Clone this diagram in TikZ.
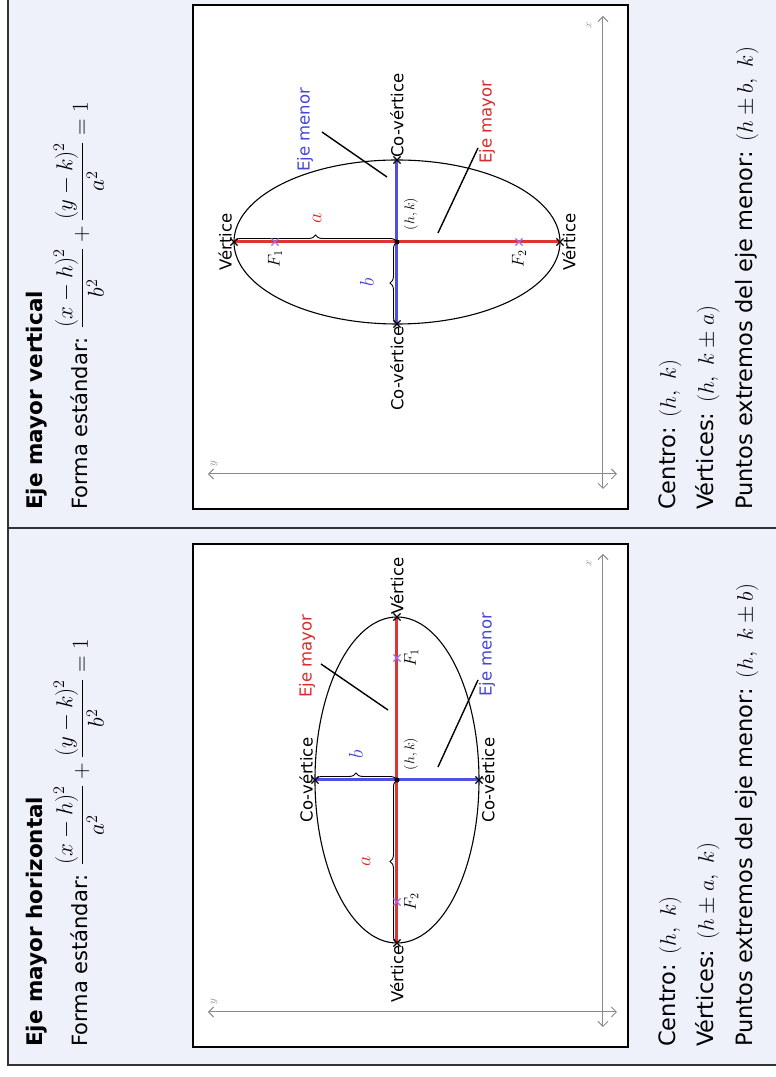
\RequirePackage{fix-cm}
\documentclass[tikz,border=0pt]{standalone}
\usepackage{fontspec}
\setmainfont{DejaVu Sans}
\usetikzlibrary{decorations.pathreplacing,arrows.meta,shapes.misc}
\definecolor{bgcol}{HTML}{EEF0FA}
\definecolor{redax}{HTML}{E03434}
\definecolor{blueax}{HTML}{5050E0}
\definecolor{redtxt}{HTML}{D92B2B}
\definecolor{bluetxt}{HTML}{4646D8}
\definecolor{focol}{HTML}{9B6CF0}
\definecolor{axgray}{HTML}{8A8A8A}
\definecolor{bordcol}{HTML}{333333}
\tikzset{
  lbl/.style={font=\fontsize{16.5}{18}\selectfont, inner sep=2pt},
  redlbl/.style={lbl, text=redtxt},
  bluelbl/.style={lbl, text=bluetxt},
  vmark/.style={cross out, draw=black, line width=1.2pt, minimum size=6pt, inner sep=0pt},
  fmark/.style={cross out, draw=focol, line width=1.2pt, minimum size=6pt, inner sep=0pt},
  cdot/.style={circle, fill=black, minimum size=5pt, inner sep=0pt},
  majax/.style={draw=redax, line width=3pt},
  minax/.style={draw=blueax, line width=3pt},
  ell/.style={draw=black, line width=1.1pt},
  leader/.style={draw=black, line width=1.4pt},
  bracedeco/.style={draw=black, decorate, decoration={brace, amplitude=7pt}, line width=0.9pt},
  axisline/.style={draw=axgray, line width=1pt, {Straight Barb[length=5pt,width=10pt]}-{Straight Barb[length=5pt,width=10pt]}},
  axlbl/.style={font=\fontsize{11}{12}\selectfont, text=axgray, inner sep=0pt},
  boxframe/.style={draw=black, line width=1.4pt, fill=white},
  headtext/.style={font=\fontsize{21}{24}\selectfont, anchor=base west, inner sep=0pt},
  bodytext/.style={font=\fontsize{22.5}{26}\selectfont, anchor=base west, inner sep=0pt},
  titletext/.style={font=\fontsize{21.5}{24}\selectfont\bfseries, anchor=base west, inner sep=0pt},
  mathlbl/.style={font=\fontsize{20}{22}\selectfont, inner sep=0pt},
  flbl/.style={font=\fontsize{17}{19}\selectfont, inner sep=0pt},
  hklbl/.style={font=\fontsize{14}{15}\selectfont, inner sep=0pt},
}
\begin{document}
\begin{tikzpicture}[x=1pt,y=1pt]
\useasboundingbox (-776,0) rectangle (0,1077);
\begin{scope}[rotate=90,transform shape]
% table background and rules
\fill[white] (0,0) rectangle (1077,776);
\fill[bgcol] (12,0) rectangle (1077,768);
\draw[bordcol,line width=1.4pt] (12,0) -- (12,768) -- (1077,768);
\draw[bordcol,line width=1.4pt] (549,0) -- (549,768);

% ---------- column 1 : horizontal major axis ----------
\node[titletext] (t1) at (30,733) {Eje mayor horizontal};
\node[headtext] (f1) at (30,688) {Forma estándar: \fontsize{23}{25}\selectfont$\displaystyle\frac{(x-h)^2}{a^2}+\frac{(y-k)^2}{b^2}=1$};
\node[bodytext] (c1) at (30,100) {Centro: $(h,\ k)$};
\node[bodytext] (v1) at (30,62) {Vértices: $(h\pm a,\ k)$};
\node[bodytext] (p1) at (30,23) {Puntos extremos del eje menor: $(h,\ k\pm b)$};

\begin{scope}[shift={(297,379)}]
\draw[boxframe] (-267,-231) rectangle (236,204);
\coordinate (hxa) at (-247,-206); \coordinate (hxb) at (226,-206);
\coordinate (hya) at (-232,-220); \coordinate (hyb) at (-232,189);
\draw[axisline] (hxa) -- (hxb);
\draw[axisline] (hya) -- (hyb);
\node[axlbl] (hxl) at (217,-192) {$x$};
\node[axlbl] (hyl) at (-222,183) {$y$};
\draw[ell] (0,0) ellipse [x radius=163, y radius=82];
\coordinate (hC) at (0,0);
\coordinate (hV1) at (163,0); \coordinate (hV2) at (-163,0);
\coordinate (hW1) at (0,82); \coordinate (hW2) at (0,-82);
\coordinate (hF1) at (122,0); \coordinate (hF2) at (-122,0);
\draw[majax] (hV2) -- (hV1);
\draw[minax] (hW2) -- (hW1);
\draw[bracedeco] (hV2) -- (hC);
\draw[bracedeco] (hW1) -- (hC);
\node[vmark] (hv1m) at (hV1) {}; \node[vmark] (hv2m) at (hV2) {};
\node[vmark] (hw1m) at (hW1) {}; \node[vmark] (hw2m) at (hW2) {};
\node[fmark] (hf1m) at (hF1) {}; \node[fmark] (hf2m) at (hF2) {};
\node[cdot] (hcm) at (hC) {};
\node[lbl,anchor=west] (hv1l) at (hV1) {Vértice};
\node[lbl,anchor=east] (hv2l) at (hV2) {Vértice};
\node[lbl,anchor=south] (hw1l) at (hW1) {Co-vértice};
\node[lbl,anchor=north] (hw2l) at (hW2) {Co-vértice};
\node[flbl,anchor=north] (hf1l) at ([yshift=-7pt]hF1) {$F_1$};
\node[flbl,anchor=north] (hf2l) at ([yshift=-7pt]hF2) {$F_2$};
\node[mathlbl,text=redtxt] (hal) at (-81,31) {$a$};
\node[mathlbl,text=bluetxt] (hbl) at (26,41) {$b$};
\node[hklbl] (hhk) at (26,-14) {$(h,k)$};
\node[redlbl] (hmay) at (124,90) {Eje mayor};
\node[bluelbl] (hmen) at (125,-90) {Eje menor};
\coordinate (hmayA) at (116,76); \coordinate (hmayB) at (70,9);
\coordinate (hmenA) at (100,-81); \coordinate (hmenB) at (13,-41);
\draw[leader] (hmayA) -- (hmayB);
\draw[leader] (hmenA) -- (hmenB);
\end{scope}

% ---------- column 2 : vertical major axis ----------
\node[titletext] (t2) at (567,733) {Eje mayor vertical};
\node[headtext] (f2) at (567,688) {Forma estándar: \fontsize{23}{25}\selectfont$\displaystyle\frac{(x-h)^2}{b^2}+\frac{(y-k)^2}{a^2}=1$};
\node[bodytext] (c2) at (567,100) {Centro: $(h,\ k)$};
\node[bodytext] (v2) at (567,62) {Vértices: $(h,\ k\pm a)$};
\node[bodytext] (p2) at (567,23) {Puntos extremos del eje menor: $(h\pm b,\ k)$};

\begin{scope}[shift={(835,379)}]
\draw[boxframe] (-267,-231) rectangle (237,204);
\coordinate (vxa) at (-247,-206); \coordinate (vxb) at (226,-206);
\coordinate (vya) at (-232,-220); \coordinate (vyb) at (-232,189);
\draw[axisline] (vxa) -- (vxb);
\draw[axisline] (vya) -- (vyb);
\node[axlbl] (vxl) at (217,-192) {$x$};
\node[axlbl] (vyl) at (-222,183) {$y$};
\draw[ell] (0,0) ellipse [x radius=82, y radius=163];
\coordinate (vC) at (0,0);
\coordinate (vV1) at (0,163); \coordinate (vV2) at (0,-163);
\coordinate (vW1) at (82,0); \coordinate (vW2) at (-82,0);
\coordinate (vF1) at (0,122); \coordinate (vF2) at (0,-122);
\draw[majax] (vV2) -- (vV1);
\draw[minax] (vW2) -- (vW1);
\draw[bracedeco] (vV1) -- (vC);
\draw[bracedeco] (vW2) -- (vC);
\node[vmark] (vv1m) at (vV1) {}; \node[vmark] (vv2m) at (vV2) {};
\node[vmark] (vw1m) at (vW1) {}; \node[vmark] (vw2m) at (vW2) {};
\node[fmark] (vf1m) at (vF1) {}; \node[fmark] (vf2m) at (vF2) {};
\node[cdot] (vcm) at (vC) {};
\node[lbl,anchor=south] (vv1l) at (vV1) {Vértice};
\node[lbl,anchor=north] (vv2l) at (vV2) {Vértice};
\node[lbl,anchor=west] (vw1l) at (vW1) {Co-vértice};
\node[lbl,anchor=east] (vw2l) at (vW2) {Co-vértice};
\node[flbl,anchor=east] (vf1l) at ([xshift=-8pt]vF1) {$F_1$};
\node[flbl,anchor=east] (vf2l) at ([xshift=-8pt]vF2) {$F_2$};
\node[mathlbl,text=redtxt] (val) at (24,80) {$a$};
\node[mathlbl,text=bluetxt] (vbl) at (-40,30) {$b$};
\node[hklbl] (vhk) at (28,-14) {$(h,k)$};
\node[bluelbl] (vmen) at (112,92) {Eje menor};
\node[redlbl] (vmay) at (120,-90) {Eje mayor};
\coordinate (vmenA) at (110,75); \coordinate (vmenB) at (65,10);
\coordinate (vmayA) at (94,-81); \coordinate (vmayB) at (9,-41);
\draw[leader] (vmenA) -- (vmenB);
\draw[leader] (vmayA) -- (vmayB);
\end{scope}
\end{scope}
\end{tikzpicture}
\end{document}
